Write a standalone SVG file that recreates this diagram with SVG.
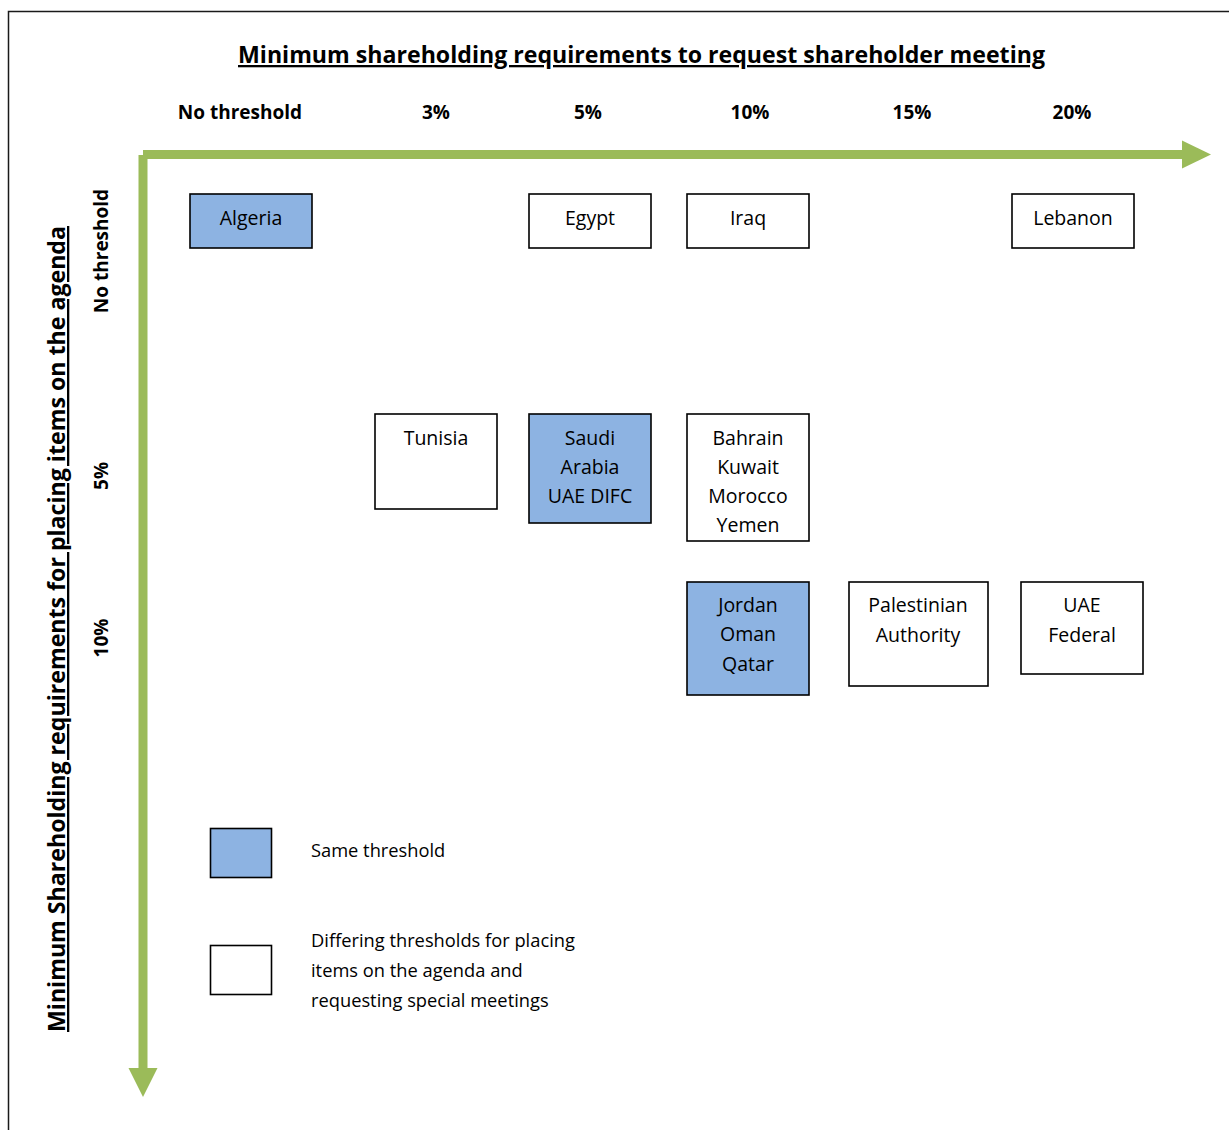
<svg xmlns="http://www.w3.org/2000/svg" width="1229" height="1130" viewBox="0 0 1229 1130">
  <style>
    .frame { fill: #ffffff; stroke: #1a1a1a; stroke-width: 1.5; }
    .axis { stroke: #9BBB59; stroke-width: 9; fill: none; }
    .head { fill: #9BBB59; }
    .node { stroke: #000000; stroke-width: 1.6; }
    .same { fill: #8DB3E2; }
    .diff { fill: #ffffff; }
    .lbl { font-family: "Open Sans", "Noto Sans", sans-serif; font-size: 19.5px; fill: #000; text-anchor: middle; }
    .leg { font-family: "Open Sans", "Noto Sans", sans-serif; font-size: 18.3px; fill: #000; }
    .hdr { font-family: "Open Sans", "Noto Sans", sans-serif; font-size: 19px; font-weight: bold; fill: #000; text-anchor: middle; }
    .title { font-family: "Open Sans", "Noto Sans", sans-serif; font-size: 23px; font-weight: bold; fill: #000; text-decoration: underline; }
  </style>

  <rect class="frame" x="8.5" y="11.5" width="1240" height="1140"/>

  <!-- chart titles -->
  <text class="title" x="238" y="63" textLength="807" lengthAdjust="spacingAndGlyphs">Minimum shareholding requirements to request shareholder meeting</text>
  <text class="title" transform="translate(65,1032) rotate(-90)" x="0" y="0" textLength="806" lengthAdjust="spacingAndGlyphs">Minimum Shareholding requirements for placing items on the agenda</text>

  <!-- column headers -->
  <text class="hdr" x="240" y="119">No threshold</text>
  <text class="hdr" x="436" y="119">3%</text>
  <text class="hdr" x="588" y="119">5%</text>
  <text class="hdr" x="750" y="119">10%</text>
  <text class="hdr" x="912" y="119">15%</text>
  <text class="hdr" x="1072" y="119">20%</text>

  <!-- row headers -->
  <text class="hdr" transform="translate(108,251) rotate(-90)">No threshold</text>
  <text class="hdr" transform="translate(108,476) rotate(-90)">5%</text>
  <text class="hdr" transform="translate(108,638) rotate(-90)">10%</text>

  <!-- axes -->
  <g id="connectors">
    <line class="axis" x1="143" y1="154.5" x2="1183" y2="154.5"/>
    <polygon class="head" points="1182,140.5 1211,154.5 1182,168.5"/>
    <line class="axis" x1="143" y1="155" x2="143" y2="1069"/>
    <polygon class="head" points="128.5,1068 157.5,1068 143,1097"/>
  </g>

  <!-- country boxes -->
  <g id="algeria">
    <rect class="node same" x="190" y="194" width="122" height="54"/>
    <text class="lbl" x="251" y="225">Algeria</text>
  </g>
  <g id="egypt">
    <rect class="node diff" x="529" y="194" width="122" height="54"/>
    <text class="lbl" x="590" y="225">Egypt</text>
  </g>
  <g id="iraq">
    <rect class="node diff" x="687" y="194" width="122" height="54"/>
    <text class="lbl" x="748" y="225">Iraq</text>
  </g>
  <g id="lebanon">
    <rect class="node diff" x="1012" y="194" width="122" height="54"/>
    <text class="lbl" x="1073" y="225">Lebanon</text>
  </g>
  <g id="tunisia">
    <rect class="node diff" x="375" y="414" width="122" height="95"/>
    <text class="lbl" x="436" y="445">Tunisia</text>
  </g>
  <g id="saudi-uae-difc">
    <rect class="node same" x="529" y="414" width="122" height="109"/>
    <text class="lbl" x="590" y="445">Saudi</text>
    <text class="lbl" x="590" y="474">Arabia</text>
    <text class="lbl" x="590" y="503">UAE DIFC</text>
  </g>
  <g id="bahrain-group">
    <rect class="node diff" x="687" y="414" width="122" height="127"/>
    <text class="lbl" x="748" y="445">Bahrain</text>
    <text class="lbl" x="748" y="474">Kuwait</text>
    <text class="lbl" x="748" y="503">Morocco</text>
    <text class="lbl" x="748" y="532">Yemen</text>
  </g>
  <g id="jordan-group">
    <rect class="node same" x="687" y="582" width="122" height="113"/>
    <text class="lbl" x="748" y="612">Jordan</text>
    <text class="lbl" x="748" y="641">Oman</text>
    <text class="lbl" x="748" y="671">Qatar</text>
  </g>
  <g id="palestinian-authority">
    <rect class="node diff" x="849" y="582" width="139" height="104"/>
    <text class="lbl" x="918" y="612">Palestinian</text>
    <text class="lbl" x="918" y="642">Authority</text>
  </g>
  <g id="uae-federal">
    <rect class="node diff" x="1021" y="582" width="122" height="92"/>
    <text class="lbl" x="1082" y="612">UAE</text>
    <text class="lbl" x="1082" y="642">Federal</text>
  </g>

  <!-- legend -->
  <g id="legend-same">
    <rect class="node same" x="210.5" y="828.5" width="61" height="49"/>
    <text class="leg" x="311" y="857">Same threshold</text>
  </g>
  <g id="legend-differing">
    <rect class="node diff" x="210.5" y="945.5" width="61" height="49"/>
    <text class="leg" x="311" y="947">Differing thresholds for placing</text>
    <text class="leg" x="311" y="977">items on the agenda and</text>
    <text class="leg" x="311" y="1007">requesting special meetings</text>
  </g>
</svg>
